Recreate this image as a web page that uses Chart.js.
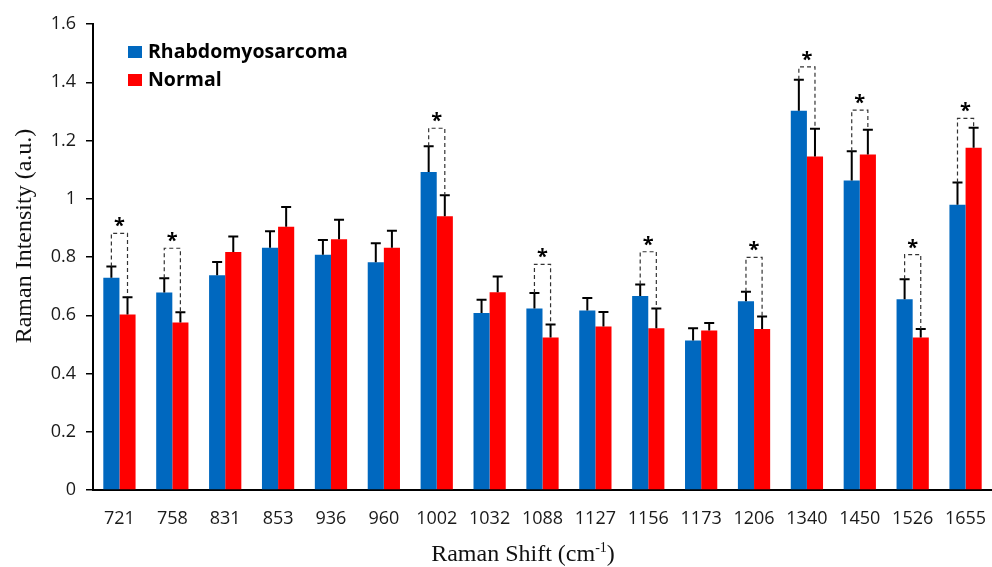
<!DOCTYPE html>
<html lang="en">
<head>
    <meta charset="UTF-8">
    <title>Raman Intensity</title>
    <script src="https://cdn.jsdelivr.net/npm/chart.js"></script>
    <style>
        html, body { margin: 0; padding: 0; background: #fff; }
        #wrap { width: 992px; height: 567px; }
    </style>
</head>
<body>
    <div id="wrap"><canvas id="ramanChart" width="992" height="567"></canvas></div>

    <script>
        const shifts = ['721', '758', '831', '853', '936', '960', '1002', '1032', '1088',
                        '1127', '1156', '1173', '1206', '1340', '1450', '1526', '1655'];

        const rhabdo   = [0.729, 0.678, 0.737, 0.832, 0.808, 0.782, 1.092, 0.608, 0.623,
                          0.616, 0.666, 0.513, 0.648, 1.302, 1.063, 0.655, 0.979];
        const rhabdoSd = [0.038, 0.049, 0.046, 0.056, 0.050, 0.065, 0.088, 0.045, 0.053,
                          0.043, 0.040, 0.042, 0.033, 0.107, 0.100, 0.069, 0.077];

        const normal   = [0.603, 0.575, 0.817, 0.904, 0.861, 0.832, 0.940, 0.679, 0.524,
                          0.561, 0.555, 0.548, 0.553, 1.145, 1.152, 0.524, 1.175];
        const normalSd = [0.059, 0.035, 0.053, 0.068, 0.067, 0.058, 0.072, 0.054, 0.044,
                          0.050, 0.068, 0.025, 0.043, 0.095, 0.085, 0.029, 0.069];

        // height of the dashed significance bracket, null = not significant
        const bracketTop = [0.881, 0.830, null, null, null, null, 1.242, null, 0.775,
                            null, 0.818, null, 0.799, 1.453, 1.304, 0.808, 1.276];

        const yTicks = [0, 0.2, 0.4, 0.6, 0.8, 1, 1.2, 1.4, 1.6];
        const yTickLabels = ['0', '0.2', '0.4', '0.6', '0.8', '1', '1.2', '1.4', '1.6'];

        const yTitle = 'Raman Intensity (a.u.)';
        const xTitle = ['Raman Shift (cm', '-1', ')'];   // middle part is superscript

        const BLUE = '#0068BF';
        const RED = '#FF0000';

        const extras = {
            id: 'extras',
            afterDatasetsDraw(chart) {
                const ctx = chart.ctx;
                const y = chart.scales.y;
                const metaR = chart.getDatasetMeta(0);
                const metaN = chart.getDatasetMeta(1);

                ctx.save();
                // error bars (upper half only)
                ctx.strokeStyle = '#000';
                ctx.lineWidth = 2;
                const drawErr = (x, v, sd) => {
                    const y0 = y.getPixelForValue(v);
                    const y1 = y.getPixelForValue(v + sd);
                    ctx.beginPath();
                    ctx.moveTo(x, y0);
                    ctx.lineTo(x, y1);
                    ctx.moveTo(x - 5, y1);
                    ctx.lineTo(x + 5, y1);
                    ctx.stroke();
                };
                shifts.forEach((s, i) => {
                    drawErr(metaR.data[i].x, rhabdo[i], rhabdoSd[i]);
                    drawErr(metaN.data[i].x, normal[i], normalSd[i]);
                });

                // significance brackets
                shifts.forEach((s, i) => {
                    if (bracketTop[i] === null) return;
                    const xl = metaR.data[i].x;
                    const xr = metaN.data[i].x;
                    const yl = y.getPixelForValue(rhabdo[i] + rhabdoSd[i]);
                    const yr = y.getPixelForValue(normal[i] + normalSd[i]);
                    const yt = y.getPixelForValue(bracketTop[i]);
                    ctx.strokeStyle = '#333';
                    ctx.lineWidth = 1.2;
                    ctx.setLineDash([4, 3]);
                    ctx.beginPath();
                    ctx.moveTo(xl, yl);
                    ctx.lineTo(xl, yt);
                    ctx.lineTo(xr, yt);
                    ctx.lineTo(xr, yr);
                    ctx.stroke();
                    ctx.setLineDash([]);
                    ctx.fillStyle = '#000';
                    ctx.font = 'bold 20px "Open Sans"';
                    ctx.textAlign = 'center';
                    ctx.textBaseline = 'alphabetic';
                    ctx.fillText('*', (xl + xr) / 2, yt - 1);
                });
                ctx.restore();
            },
            afterDraw(chart) {
                const ctx = chart.ctx;
                ctx.save();
                // legend inside the plot, top left
                ctx.font = 'bold 19.5px "Open Sans"';
                ctx.textBaseline = 'middle';
                ctx.textAlign = 'left';
                chart.data.datasets.forEach((ds, i) => {
                    const cy = 52 + i * 28;
                    ctx.fillStyle = ds.backgroundColor;
                    ctx.fillRect(128, cy - 6, 14, 12);
                    ctx.fillStyle = '#000';
                    ctx.fillText(ds.label, 148, cy);
                });

                // axis titles (serif, offset like the original figure)
                ctx.fillStyle = '#111';
                ctx.save();
                ctx.translate(25, 236);
                ctx.rotate(-Math.PI / 2);
                ctx.font = '24px "Liberation Serif"';
                ctx.textAlign = 'center';
                ctx.textBaseline = 'middle';
                ctx.fillText(yTitle, 0, 0);
                ctx.restore();

                const mainFont = '24px "Liberation Serif"';
                const supFont = '14px "Liberation Serif"';
                ctx.textAlign = 'left';
                ctx.textBaseline = 'alphabetic';
                ctx.font = mainFont;
                const w0 = ctx.measureText(xTitle[0]).width;
                const w2 = ctx.measureText(xTitle[2]).width;
                ctx.font = supFont;
                const w1 = ctx.measureText(xTitle[1]).width;
                let x = 523 - (w0 + w1 + w2) / 2;
                const base = 561;
                ctx.font = mainFont;
                ctx.fillText(xTitle[0], x, base);
                x += w0;
                ctx.font = supFont;
                ctx.fillText(xTitle[1], x, base - 9);
                x += w1;
                ctx.font = mainFont;
                ctx.fillText(xTitle[2], x, base);
                ctx.restore();
            }
        };

        new Chart(document.getElementById('ramanChart'), {
            type: 'bar',
            data: {
                labels: shifts,
                datasets: [
                    { label: 'Rhabdomyosarcoma', data: rhabdo, backgroundColor: BLUE, borderWidth: 0 },
                    { label: 'Normal', data: normal, backgroundColor: RED, borderWidth: 0 }
                ]
            },
            options: {
                responsive: false,
                animation: false,
                layout: { padding: { top: 24, right: -2, bottom: 0, left: 0 } },
                datasets: { bar: { categoryPercentage: 0.61, barPercentage: 1.0 } },
                plugins: {
                    legend: { display: false },
                    tooltip: { enabled: false }
                },
                scales: {
                    x: {
                        grid: { display: false, drawTicks: false },
                        border: { display: true, color: '#000', width: 2 },
                        ticks: {
                            color: '#1a1a1a',
                            font: { family: 'Open Sans', size: 18 },
                            padding: 18,
                            maxRotation: 0,
                            autoSkip: false
                        },
                        afterFit(scale) {
                            scale.height = 77;
                            scale.paddingLeft = 0;
                            scale.paddingRight = 0;
                        }
                    },
                    y: {
                        min: 0,
                        max: 1.6,
                        afterBuildTicks(scale) { scale.ticks = yTicks.map(v => ({ value: v })); },
                        grid: { drawOnChartArea: false, drawTicks: true, tickLength: 7, color: '#000', lineWidth: 1.5 },
                        border: { display: true, color: '#000', width: 2 },
                        ticks: {
                            color: '#1a1a1a',
                            font: { family: 'Open Sans', size: 18 },
                            padding: 10,
                            callback: (v, i) => yTickLabels[i]
                        },
                        afterFit(scale) { scale.width = 93; }
                    }
                }
            },
            plugins: [extras]
        });
    </script>
</body>
</html>
